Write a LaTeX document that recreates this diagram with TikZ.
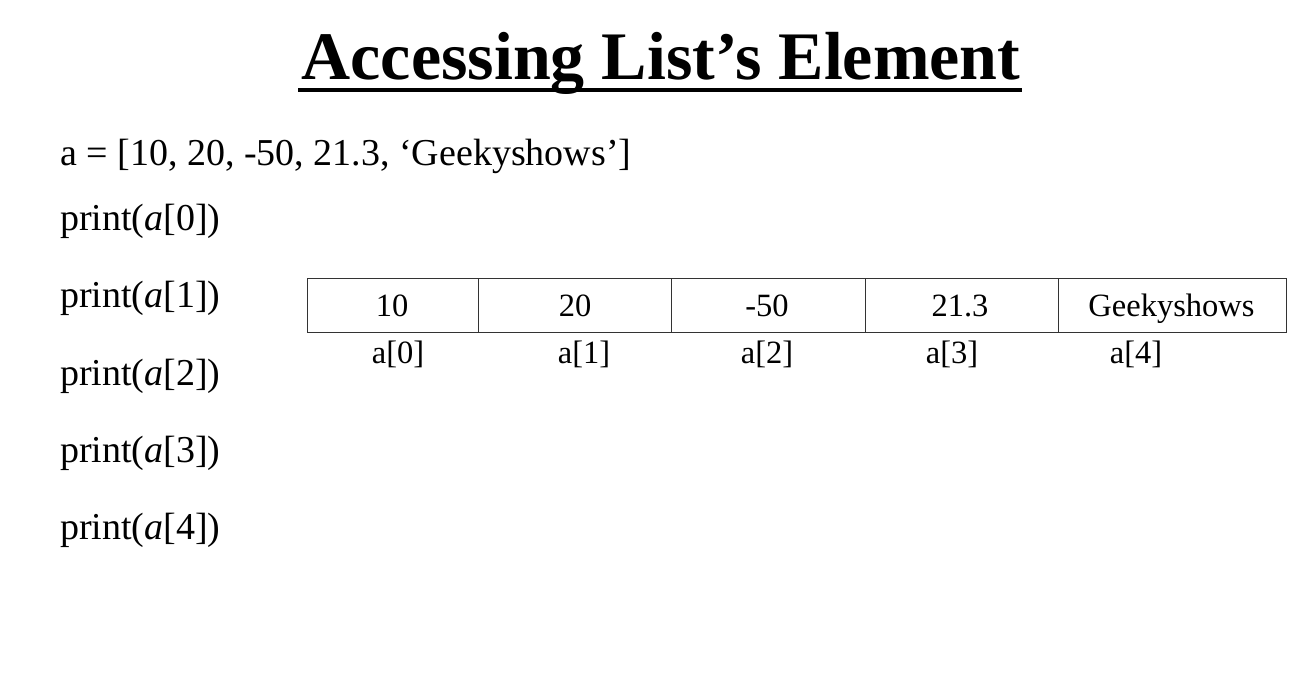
\documentclass[tikz,border=0pt]{standalone}
\usepackage{fontspec}
\setmainfont{Liberation Serif}
\begin{document}
\begin{tikzpicture}[x=1pt,y=-1pt,
  codetext/.style={anchor=base west,inner sep=0pt,font=\fontsize{38}{44}\selectfont},
  cell/.style={draw=black!80,line width=1.3pt,minimum height=54pt,inner sep=0pt,anchor=north west},
  idx/.style={anchor=base,inner sep=0pt,font=\fontsize{32.5}{38}\selectfont}]
\useasboundingbox (0,0) rectangle (1315,675);
\node[anchor=base,inner sep=0pt,font=\fontsize{68}{74}\selectfont\bfseries] (title) at (661,79) {Accessing List’s Element};
\draw[line width=4pt] (298,90) -- (1022,90);
\node[codetext] (decl) at (60,165) {a = [10, 20, -50, 21.3, ‘Geekyshows’]};
\node[codetext] (p0) at (60,230) {print(\textit{a}[0])};
\node[codetext] (p1) at (60,307) {print(\textit{a}[1])};
\node[codetext] (p2) at (60,385) {print(\textit{a}[2])};
\node[codetext] (p3) at (60,462) {print(\textit{a}[3])};
\node[codetext] (p4) at (60,539) {print(\textit{a}[4])};
\node[cell,minimum width=171pt] (c0) at (307,278) {};
\node[cell,minimum width=193pt] (c1) at (478,278) {};
\node[cell,minimum width=194pt] (c2) at (671,278) {};
\node[cell,minimum width=193pt] (c3) at (865,278) {};
\node[cell,minimum width=228pt] (c4) at (1058,278) {};
\node[idx] (v0) at (392,316.5) {10};
\node[idx] (v1) at (575,316.5) {20};
\node[idx] (v2) at (767,316.5) {-50};
\node[idx] (v3) at (960,316.5) {21.3};
\node[idx] (v4) at (1171.5,316.5) {Geekyshows};
\node[idx] (l0) at (398,363) {a[0]};
\node[idx] (l1) at (584,363) {a[1]};
\node[idx] (l2) at (767,363) {a[2]};
\node[idx] (l3) at (952,363) {a[3]};
\node[idx] (l4) at (1136,363) {a[4]};
\end{tikzpicture}
\end{document}
